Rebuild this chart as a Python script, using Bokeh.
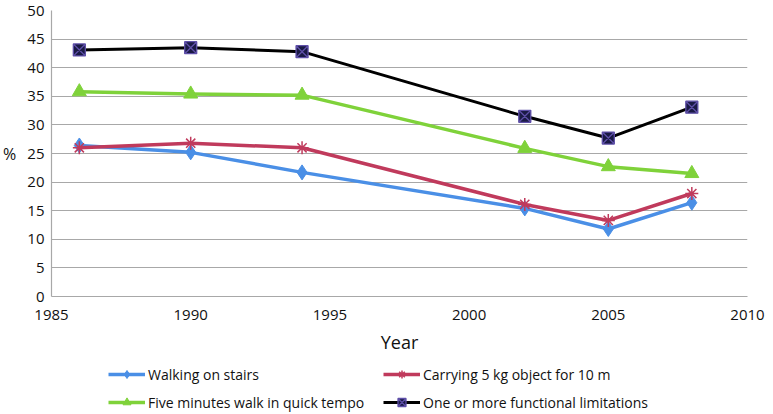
from bokeh.plotting import figure
from bokeh.layouts import column
from bokeh.models import Range1d, FixedTicker, Legend, LegendItem
from bokeh.embed import file_html
from bokeh.resources import INLINE

years = [1986, 1990, 1994, 2002, 2005, 2008]
walking_stairs = [26.4, 25.2, 21.7, 15.4, 11.8, 16.4]
carrying_5kg = [26.0, 26.8, 26.0, 16.1, 13.3, 18.0]
five_minutes_walk = [35.8, 35.4, 35.2, 25.9, 22.7, 21.5]
one_or_more = [43.1, 43.5, 42.8, 31.5, 27.7, 33.1]

x_ticks = [1985, 1990, 1995, 2000, 2005, 2010]
y_ticks = [0, 5, 10, 15, 20, 25, 30, 35, 40, 45, 50]

names = ["Walking on stairs", "Carrying 5 kg object for 10 m",
         "Five minutes walk in quick tempo", "One or more functional limitations"]

FONT = "Open Sans"
GRID = "#A8A8A8"

p = figure(width=765, height=362, output_backend="svg", toolbar_location=None,
           x_range=Range1d(1985, 2010), y_range=Range1d(0, 50),
           min_border_left=49, min_border_right=18, min_border_top=10, min_border_bottom=66)
p.outline_line_color = None
p.xgrid.grid_line_color = None
p.ygrid.grid_line_color = GRID
p.ygrid.grid_line_width = 1.2

p.xaxis.ticker = FixedTicker(ticks=x_ticks)
p.yaxis.ticker = FixedTicker(ticks=y_ticks)
for ax in (p.xaxis, p.yaxis):
    ax.axis_line_color = GRID
    ax.axis_line_width = 1.2
    ax.major_tick_line_color = None
    ax.minor_tick_line_color = None
    ax.major_tick_out = 0
    ax.major_tick_in = 0
    ax.major_label_text_font = FONT
    ax.major_label_text_font_size = "15px"
    ax.major_label_text_color = "#111111"
    ax.axis_label_text_font = FONT
    ax.axis_label_text_font_style = "normal"
    ax.axis_label_text_color = "#111111"

p.xaxis.major_label_standoff = 13
p.xaxis.axis_label = "Year"
p.xaxis.axis_label_text_font_size = "18px"
p.xaxis.axis_label_standoff = 7

p.yaxis.major_label_standoff = 7
p.yaxis.axis_label = "%"
p.yaxis.axis_label_orientation = "horizontal"
p.yaxis.axis_label_text_font_size = "16px"
p.yaxis.axis_label_standoff = 8

styles = [
    ("#4A8FE6", "diamond", 15, "#4A8FE6", "#4A8FE6", 3.5, 1),
    ("#C03A5C", "asterisk", 13, "#C03A5C", "#C03A5C", 3.5, 1.5),
    ("#7FD23A", "triangle", 14, "#7FD23A", "#7FD23A", 3.5, 1),
    ("#000000", "square_x", 12, "#1A1A45", "#5E4FA8", 3.0, 1.3),
]
data = [walking_stairs, carrying_5kg, five_minutes_walk, one_or_more]

for vals, (col, mk, sz, fill, mline, lw, mlw) in zip(data, styles):
    p.line(years, vals, line_color=col, line_width=lw, line_join="round")
    p.scatter(years, vals, marker=mk, size=sz, fill_color=fill,
              line_color=mline, line_width=mlw)

# legend strip below the chart (its renderers use the same data but lie outside its view)
lf = figure(width=765, height=50, output_backend="svg", toolbar_location=None,
            x_range=Range1d(0, 1), y_range=Range1d(0, 1),
            min_border_left=0, min_border_right=0, min_border_top=0, min_border_bottom=0,
            x_axis_type=None, y_axis_type=None)
lf.outline_line_color = None
lf.xgrid.visible = False
lf.ygrid.visible = False

items = []
for name, vals, (col, mk, sz, fill, mline, lw, mlw) in zip(names, data, styles):
    r1 = lf.line(years, vals, line_color=col, line_width=lw)
    r2 = lf.scatter(years, vals, marker=mk, size=sz * 0.75, fill_color=fill,
                    line_color=mline, line_width=mlw)
    items.append(LegendItem(label=name, renderers=[r1, r2]))

def make_legend(its, x):
    return Legend(items=its, location=(x, 0), orientation="vertical",
                  margin=0, padding=0, spacing=8, glyph_width=37, glyph_height=20,
                  label_height=20, label_standoff=3, border_line_color=None,
                  background_fill_alpha=0, label_text_font=FONT,
                  label_text_font_size="14px", label_text_color="#111111")

lf.add_layout(make_legend([items[0], items[2]], 57))
lf.add_layout(make_legend([items[1], items[3]], 332))

layout = column(p, lf, spacing=0)
open("out.html", "w").write(file_html(layout, INLINE))
